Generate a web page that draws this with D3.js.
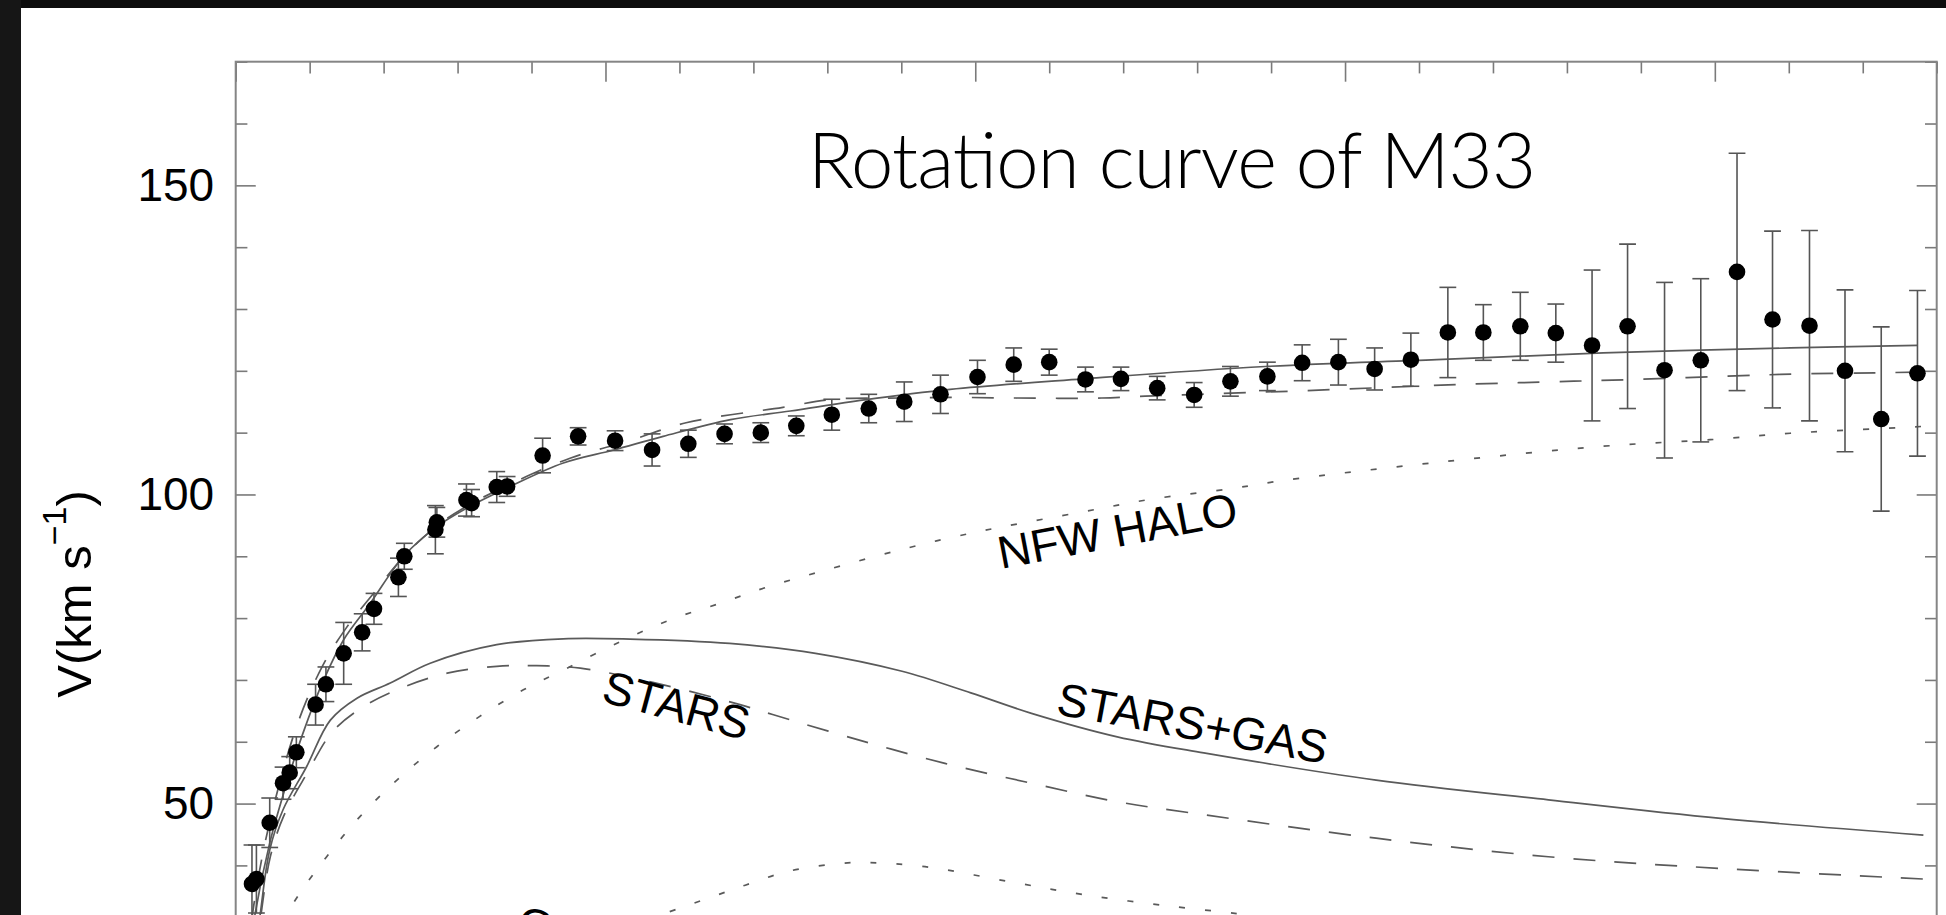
<!DOCTYPE html>
<html>
<head>
<meta charset="utf-8">
<script src="https://cdn.jsdelivr.net/npm/d3@7"></script>
<style>
  html, body { margin: 0; padding: 0; background: #0d0d0d; overflow: hidden; }
  svg { display: block; }
</style>
</head>
<body>
<svg id="chart" width="1946" height="915"></svg>
<script>
// ---- Observed rotation velocities of M33 ----
const radius = [0.22, 0.28, 0.46, 0.64, 0.73, 0.82, 1.08, 1.22, 1.46, 1.71, 1.87, 2.20, 2.28, 2.70, 2.72,
  3.12, 3.19, 3.53, 3.67, 4.15, 4.63, 5.13, 5.63, 6.12, 6.61, 7.10, 7.58, 8.06, 8.56, 9.04, 9.53,
  10.03, 10.52, 11.00, 11.49, 11.97, 12.46, 12.96, 13.45, 13.95, 14.42, 14.91, 15.40, 15.89, 16.39,
  16.87, 17.37, 17.85, 18.34, 18.82, 19.32, 19.81, 20.30, 20.78, 21.28, 21.76, 22.25, 22.74];
const velocity = [37.0, 37.8, 46.9, 53.3, 55.0, 58.3, 66.0, 69.3, 74.3, 77.7, 81.5, 86.6, 90.0, 94.3, 95.5,
  99.1, 98.6, 101.2, 101.3, 106.3, 109.4, 108.7, 107.2, 108.2, 109.8, 110.0, 111.1, 112.9, 113.9, 115.0, 116.2,
  119.0, 121.0, 121.4, 118.6, 118.7, 117.2, 116.1, 118.3, 119.1, 121.3, 121.4, 120.3, 121.8, 126.2,
  126.2, 127.2, 126.1, 124.1, 127.2, 120.1, 121.7, 136.0, 128.3, 127.3, 120.0, 112.2, 119.6];
const velocityErr = [6.3, 5.5, 4.0, 2.6, 2.6, 2.5, 3.3, 2.8, 5.0, 3.0, 2.5, 3.1, 2.1, 3.9, 2.4,
  2.6, 2.2, 2.5, 1.6, 2.8, 1.4, 1.6, 2.6, 2.2, 1.6, 1.6, 1.6, 2.5, 2.3, 3.2, 3.1,
  2.7, 2.7, 2.1, 2.0, 1.9, 1.9, 2.0, 2.4, 2.3, 2.9, 3.7, 3.4, 4.3, 7.3,
  4.5, 5.5, 4.7, 12.2, 13.3, 14.2, 13.2, 19.2, 14.3, 15.4, 13.1, 14.9, 13.4];

// ---- Model curves ----
// best fit, stars + gas + NFW halo (solid)
const fitR = [0.15, 0.26, 0.46, 0.69, 0.91, 1.19, 1.46, 1.82, 2.27, 2.72, 3.17, 3.71, 4.43, 5.11, 5.78, 6.69,
  7.5, 8.5, 9.66, 11.46, 13.92, 16.24, 18.49, 21.02, 22.74];
const fitV = [22, 32, 43.6, 53.3, 61.4, 70.0, 76.5, 82.4, 90.0, 94.8, 98.1, 101.3, 105.1, 107.2, 109.4, 112.1,
  113.5, 115.3, 117.0, 118.7, 120.7, 121.8, 122.9, 123.7, 124.1];
// alternative fit (dashed)
const altR = [0.15, 0.25, 0.45, 0.83, 1.18, 1.50, 1.81, 2.30, 2.75, 3.20, 3.75, 4.53, 5.30, 6.09, 7.40,
  8.08, 9.0, 9.75, 10.55, 11.71, 12.46, 13.04, 13.69, 14.26, 16.58, 17.73, 18.90, 20.57, 21.15, 22.29, 22.74];
const altV = [24, 34, 46.5, 62.7, 72.4, 78.5, 83.2, 90.3, 95.2, 98.6, 101.9, 105.9, 108.6, 111.6, 114.1,
  115.4, 115.6, 115.7, 115.6, 115.6, 116.0, 116.2, 116.5, 116.7, 117.8, 118.2, 118.6, 119.3, 119.5, 119.7, 119.8];
// stellar disk + gas (solid)
const starGasR = [0.2, 0.33, 0.46, 0.64, 0.96, 1.28, 1.64, 2.09, 2.63, 3.53, 4.43, 5.33, 6.68, 7.84, 9.01,
  9.94, 10.76, 11.92, 13.09, 15.42, 17.75, 20.08, 22.82];
const starGasV = [20, 32, 42.5, 49.0, 56.0, 63.5, 67.05, 69.5, 72.7, 75.7, 76.65, 76.6, 75.9, 74.3, 71.4,
  67.9, 64.6, 60.8, 58.2, 53.8, 50.6, 47.6, 44.9];
// stellar disk alone (dashed)
const starsR = [0.2, 0.33, 0.47, 0.65, 0.97, 1.30, 1.69, 2.18, 2.86, 3.53, 4.07, 4.66, 5.64, 6.82, 7.26,
  8.42, 9.59, 10.76, 11.92, 13.09, 15.42, 17.75, 20.08, 22.82];
const starsV = [19, 31, 41.5, 48.0, 55.0, 61.5, 65.4, 68.4, 71.1, 72.2, 72.3, 71.9, 69.6, 66.0, 64.4,
  60.3, 56.5, 53.3, 50.3, 48.2, 44.4, 41.4, 39.5, 37.8];
// dark matter halo (dotted)
const haloR = [0.3, 0.78, 1.23, 1.68, 2.18, 2.72, 3.30, 3.89, 4.43, 5.20, 5.87, 6.55, 7.18, 7.90, 8.94,
  9.66, 10.34, 11.46, 12.36, 13.49, 14.19, 16.33, 18.49, 19.98, 21.02, 22.48, 22.8];
const haloV = [23, 33.9, 41.4, 47.9, 53.8, 59.2, 64.1, 68.4, 71.6, 76.2, 79.7, 82.4, 85.0, 87.5, 90.9,
  93.0, 94.7, 97.2, 99.2, 101.0, 102.3, 105.3, 107.8, 108.9, 109.9, 110.8, 111.0];
// gas (dotted)
const gasR = [5.2, 5.74, 6.46, 6.89, 7.49, 8.21, 8.57, 9.32, 10.45, 11.45, 12.50, 13.54, 14.2];
const gasV = [30.0, 32.0, 35.0, 36.8, 39.1, 40.35, 40.45, 39.8, 37.4, 35.3, 33.6, 32.2, 31.2];

// ---- Axis ticks ----
const xMinorTicks = d3.range(0, 24).filter(d => d % 5 !== 0);
const xMajorTicks = [0, 5, 10, 15, 20];
const yMinorTicks = d3.range(0, 171, 10).filter(d => d % 50 !== 0);
const yMajorTicks = [0, 50, 100, 150];
const yTickLabels = ['', '50', '100', '150'];

const svg = d3.select('#chart');
const x = d3.scaleLinear().domain([0, 23]).range([235.7, 1936.7]);
const y = d3.scaleLinear().domain([0, 170]).range([1112.7, 61.7]);
const [x0, x1] = x.range();
const [yb, yt] = y.range();

// page frame
svg.append('rect').attr('x', 0).attr('y', 0).attr('width', 21).attr('height', 915).attr('fill', '#161616');
svg.append('rect').attr('x', 21).attr('y', 8).attr('width', 1925).attr('height', 907).attr('fill', '#ffffff');

svg.append('defs').append('clipPath').attr('id', 'plot-clip')
  .append('rect').attr('x', x0).attr('y', yt).attr('width', x1 - x0).attr('height', yb - yt);

const tickColor = '#7a7a7a';
function styleAxis(g) {
  g.select('.domain').remove();
  g.selectAll('.tick line').attr('stroke', tickColor).attr('stroke-width', 1.6);
  g.attr('font-family', '"Liberation Sans", Arial, Helvetica, sans-serif').attr('font-size', 46);
  g.selectAll('.tick text').attr('fill', '#000');
}

// top axis (ticks only, pointing inward)
svg.append('g').attr('transform', `translate(0,${yt})`)
  .call(d3.axisTop(x).tickValues(xMinorTicks).tickSize(-11.7).tickFormat(''))
  .call(styleAxis);
svg.append('g').attr('transform', `translate(0,${yt})`)
  .call(d3.axisTop(x).tickValues(xMajorTicks).tickSize(-20).tickFormat(''))
  .call(styleAxis);
// bottom axis
svg.append('g').attr('transform', `translate(0,${yb})`)
  .call(d3.axisBottom(x).tickValues(xMinorTicks).tickSize(-11.7).tickFormat(''))
  .call(styleAxis);
svg.append('g').attr('transform', `translate(0,${yb})`)
  .call(d3.axisBottom(x).tickValues(xMajorTicks).tickSize(-20).tickFormat(''))
  .call(styleAxis);
// left axis with labels
svg.append('g').attr('transform', `translate(${x0},0)`)
  .call(d3.axisLeft(y).tickValues(yMinorTicks).tickSize(-11.7).tickFormat(''))
  .call(styleAxis);
svg.append('g').attr('transform', `translate(${x0},0)`)
  .call(d3.axisLeft(y).tickValues(yMajorTicks).tickSize(-20).tickPadding(21.5)
    .tickFormat((d, i) => yTickLabels[i]))
  .call(styleAxis);
// right axis
svg.append('g').attr('transform', `translate(${x1},0)`)
  .call(d3.axisRight(y).tickValues(yMinorTicks).tickSize(-11.7).tickFormat(''))
  .call(styleAxis);
svg.append('g').attr('transform', `translate(${x1},0)`)
  .call(d3.axisRight(y).tickValues(yMajorTicks).tickSize(-20).tickFormat(''))
  .call(styleAxis);

// plot box
svg.append('rect').attr('x', x0).attr('y', yt).attr('width', x1 - x0).attr('height', yb - yt)
  .attr('fill', 'none').attr('stroke', '#858585').attr('stroke-width', 2);

// model curves
const line = d3.line().curve(d3.curveCatmullRom.alpha(0.5)).x(d => x(d[0])).y(d => y(d[1]));
const curves = [
  { r: haloR, v: haloV, dash: '6 20' },
  { r: gasR, v: gasV, dash: '6 20' },
  { r: starsR, v: starsV, dash: '22 19' },
  { r: starGasR, v: starGasV, dash: null },
  { r: altR, v: altV, dash: '22 20' },
  { r: fitR, v: fitV, dash: null }
];
const curveG = svg.append('g').attr('clip-path', 'url(#plot-clip)');
curveG.selectAll('path').data(curves).join('path')
  .attr('d', c => line(d3.zip(c.r, c.v)))
  .attr('fill', 'none')
  .attr('stroke', '#5a5a5a')
  .attr('stroke-width', 1.7)
  .attr('stroke-dasharray', c => c.dash);

// data with error bars
const obs = d3.range(radius.length).map(i => ({ r: radius[i], v: velocity[i], e: velocityErr[i] }));
const dataG = svg.append('g').attr('clip-path', 'url(#plot-clip)');
const capHalf = 8.4;
const bars = dataG.append('g').attr('stroke', '#555').attr('stroke-width', 1.6);
bars.selectAll('line.stem').data(obs).join('line').attr('class', 'stem')
  .attr('x1', d => x(d.r)).attr('x2', d => x(d.r))
  .attr('y1', d => y(d.v - d.e)).attr('y2', d => y(d.v + d.e));
bars.selectAll('line.capTop').data(obs).join('line').attr('class', 'capTop')
  .attr('x1', d => x(d.r) - capHalf).attr('x2', d => x(d.r) + capHalf)
  .attr('y1', d => y(d.v + d.e)).attr('y2', d => y(d.v + d.e));
bars.selectAll('line.capBot').data(obs).join('line').attr('class', 'capBot')
  .attr('x1', d => x(d.r) - capHalf).attr('x2', d => x(d.r) + capHalf)
  .attr('y1', d => y(d.v - d.e)).attr('y2', d => y(d.v - d.e));
dataG.append('g').selectAll('circle').data(obs).join('circle')
  .attr('cx', d => x(d.r)).attr('cy', d => y(d.v)).attr('r', 8.3).attr('fill', '#000');

// curve labels
const labelFont = '"Liberation Sans", Arial, Helvetica, sans-serif';
const labels = [
  { text: 'NFW HALO', at: [1001, 569], angle: -10.7 },
  { text: 'STARS', at: [600, 701], angle: 15.2 },
  { text: 'STARS+GAS', at: [1055, 714], angle: 10.5 },
  { text: 'GAS', at: [514, 936], angle: 15 }
];
svg.append('g').selectAll('text').data(labels).join('text')
  .attr('transform', d => `translate(${d.at[0]},${d.at[1]}) rotate(${d.angle})`)
  .attr('font-family', labelFont).attr('font-size', 46).attr('fill', '#000')
  .text(d => d.text);

// y axis title
const yTitle = svg.append('text')
  .attr('transform', 'translate(91,594) rotate(-90)')
  .attr('text-anchor', 'middle')
  .attr('font-family', labelFont).attr('font-size', 49).attr('fill', '#000');
yTitle.append('tspan').text('V(km s');
yTitle.append('tspan').attr('font-size', 34).attr('dy', '-0.75em').text('\u22121');
yTitle.append('tspan').attr('dy', '0.52em').text(')');

// chart title
svg.append('text')
  .attr('x', 808).attr('y', 188)
  .attr('font-family', 'Lato, "Open Sans", sans-serif').attr('font-weight', 300)
  .attr('font-size', 76).attr('fill', '#000')
  .attr('textLength', 728).attr('lengthAdjust', 'spacing')
  .text('Rotation curve of M33');
</script>
</body>
</html>
